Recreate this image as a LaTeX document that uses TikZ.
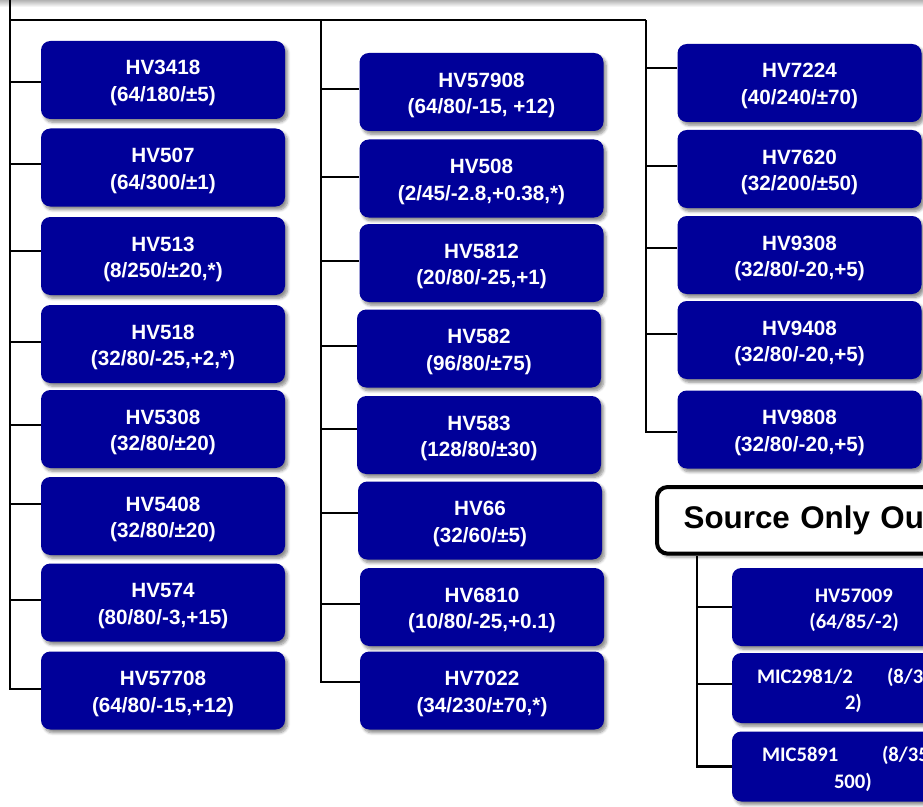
\documentclass[tikz,border=0pt]{standalone}
\usepackage{fontspec}
\setmainfont{Liberation Sans}
\newfontfamily\calibri{Carlito}
\usepackage{tikz}
\usetikzlibrary{positioning,calc,backgrounds,shadows.blur}
\definecolor{partblue}{RGB}{0,0,153}

\begin{document}
\begin{tikzpicture}[
  x=0.75pt, y=-0.75pt,
  part/.style  = {fill=partblue, rounded corners=7pt, text=white, align=center,
                  font=\fontsize{15.5}{20}\selectfont\bfseries,
                  minimum width=183pt, minimum height=58.5pt, inner sep=0pt,
                  text height=36pt, text depth=3.5pt,
                  blur shadow={shadow xshift=2pt, shadow yshift=-2.5pt,
                               shadow blur steps=6, shadow opacity=45}},
  cpart/.style = {part, font=\calibri\fontsize{15.5}{20}\selectfont\bfseries},
  mic/.style   = {cpart, minimum height=52.5pt, align=left, text width=145.5pt,
                  inner xsep=18.75pt, text height=12pt, text depth=19.5pt},
  grp/.style   = {draw=black, line width=3pt, fill=white, rounded corners=8pt,
                  font=\fontsize{23.5}{27}\selectfont\bfseries, align=left,
                  text width=185pt, inner xsep=20pt, minimum height=50pt,
                  blur shadow={shadow xshift=2pt, shadow yshift=-2.5pt,
                               shadow blur steps=6, shadow opacity=40}},
  link/.style  = {draw=black, line width=1.8pt}
]

\useasboundingbox (0,0) rectangle (923,806);

% ============================ left column ==================================
\node[part] (hv3418)  at (163,80)    {HV3418\\(64/180/±5)};
\node[part] (hv507)   at (163,167.5) {HV507\\(64/300/±1)};
\node[part] (hv513)   at (163,256)   {HV513\\(8/250/±20,*)};
\node[part] (hv518)   at (163,344)   {HV518\\(32/80/-25,+2,*)};
\node[part] (hv5308)  at (163,429)   {HV5308\\(32/80/±20)};
\node[part] (hv5408)  at (163,516)   {HV5408\\(32/80/±20)};
\node[part] (hv574)   at (163,602.5) {HV574\\(80/80/-3,+15)};
\node[part] (hv57708) at (163,690.5) {HV57708\\(64/80/-15,+12)};

% =========================== middle column =================================
\node[part] (hv57908) at (481.5,92)  {HV57908\\(64/80/-15, +12)};
\node[part] (hv508)   at (481.5,178.5) {HV508\\(2/45/-2.8,+0.38,*)};
\node[part] (hv5812)  at (481.5,263) {HV5812\\(20/80/-25,+1)};
\node[part] (hv582)   at (479,348.5) {HV582\\(96/80/±75)};
\node[part] (hv583)   at (479,435)   {HV583\\(128/80/±30)};
\node[part] (hv66)    at (480,520.5) {HV66\\(32/60/±5)};
\node[part] (hv6810)  at (482,607)   {HV6810\\(10/80/-25,+0.1)};
\node[part] (hv7022)  at (482,690.5) {HV7022\\(34/230/±70,*)};

% ============================ right column =================================
\node[part] (hv7224)  at (799.5,83)    {HV7224\\(40/240/±70)};
\node[part] (hv7620)  at (799.5,169)   {HV7620\\(32/200/±50)};
\node[part] (hv9308)  at (799.5,255)   {HV9308\\(32/80/-20,+5)};
\node[part] (hv9408)  at (799.5,340)   {HV9408\\(32/80/-20,+5)};
\node[part] (hv9808)  at (799.5,429.5) {HV9808\\(32/80/-20,+5)};

% ========================= source only outputs =============================
\node[grp, anchor=north west] (src) at (655,485) {Source Only Ou};
\node[cpart] (hv57009) at (854,607) {HV57009\\(64/85/-2)};
\node[mic] (mic2981) at (854,688)
  {\makebox[97.5pt][l]{MIC2981/2}(8/3\\\hspace*{66pt}2)};
\node[mic] (mic5891) at (854,766.5)
  {\hspace*{3.75pt}\makebox[90pt][l]{MIC5891}(8/35\\\hspace*{57.75pt}500)};

% =============================== links =====================================
\coordinate (root) at (10,0);
\coordinate (barM) at (321,20);
\coordinate (barR) at (646,20);
\coordinate (srcfoot) at ($(src.south west)+(42,0)$);

\begin{scope}[on background layer]
  \shade[top color=black!30, bottom color=white] (0,0) rectangle (923,7);
  \draw[link] (root |- barM) -- (barR);
  \foreach \n/\dy in {hv3418/-1.5, hv507/2.6, hv513/3.75, hv518/1.5,
                      hv5308/3, hv5408/9, hv574/1.9, hv57708/1.1}
    \draw[link] ([yshift=\dy pt]\n.west) -| (root);
  \foreach \n/\dy in {hv57908/2.25, hv508/1.1, hv5812/1.5, hv582/1.9,
                      hv583/4.5, hv66/5.6, hv6810/2.25, hv7022/6.4}
    \draw[link] ([yshift=\dy pt]\n.west) -| (barM);
  \foreach \n/\dy in {hv7224/11.25, hv7620/2.25, hv9308/5.25, hv9408/4.5,
                      hv9808/-1.9}
    \draw[link] ([yshift=\dy pt]\n.west) -| (barR);
  \foreach \n/\dy in {hv57009/0, mic2981/3, mic5891/0}
    \draw[link] ([yshift=\dy pt]\n.west) -| (srcfoot);
\end{scope}
\end{tikzpicture}
\end{document}
